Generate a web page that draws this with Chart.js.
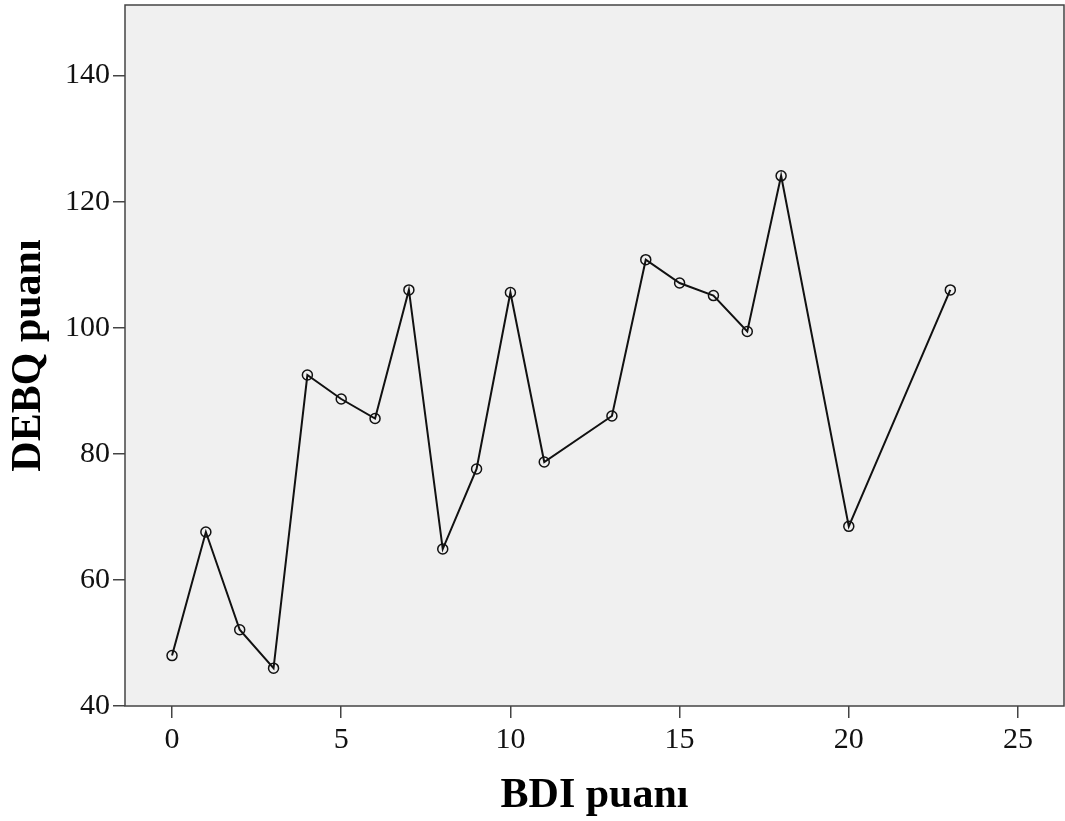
<!DOCTYPE html>
<html>
<head>
<meta charset="utf-8">
<script src="https://cdn.jsdelivr.net/npm/chart.js@4/dist/chart.umd.min.js"></script>
<style>
  html, body { margin: 0; padding: 0; background: #fff; overflow: hidden; }
  #wrap { width: 1065px; height: 821px; }
  canvas { display: block; }
</style>
</head>
<body>
<div id="wrap"><canvas id="c" width="1065" height="821"></canvas></div>
<script>
// BDI score vs DEBQ score
var bdi   = [0, 1, 2, 3, 4, 5, 6, 7, 8, 9, 10, 11, 13, 14, 15, 16, 17, 18, 20, 23];
var debq  = [48.0, 67.6, 52.1, 46.0, 92.5, 88.7, 85.6, 106.0, 64.9, 77.6, 105.6, 78.7, 86.0, 110.8, 107.1, 105.1, 99.4, 124.1, 68.5, 106.0];
var xTitle = 'BDI puanı';
var yTitle = 'DEBQ puanı';

var serif = '"Liberation Serif", "Times New Roman", serif';

var points = bdi.map(function(x, i) { return {x: x, y: debq[i]}; });

// gray plot background + frame
var plotFrame = {
    id: 'plotFrame',
    beforeDraw: function(chart) {
        var a = chart.chartArea, ctx = chart.ctx;
        ctx.save();
        ctx.fillStyle = '#f0f0f0';
        ctx.fillRect(a.left, a.top, a.right - a.left, a.bottom - a.top);
        ctx.restore();
    },
    afterDraw: function(chart) {
        var a = chart.chartArea, ctx = chart.ctx;
        ctx.save();
        ctx.strokeStyle = '#444';
        ctx.lineWidth = 1.5;
        ctx.strokeRect(a.left, a.top, a.right - a.left, a.bottom - a.top);
        ctx.restore();
    }
};

new Chart(document.getElementById('c'), {
    type: 'scatter',
    data: {
        datasets: [{
            data: points,
            showLine: true,
            borderColor: '#111',
            borderWidth: 2,
            pointRadius: 5,
            pointBorderWidth: 1.5,
            pointBorderColor: '#111',
            pointBackgroundColor: 'rgba(0,0,0,0)',
            tension: 0
        }]
    },
    options: {
        responsive: false,
        animation: false,
        layout: { autoPadding: false, padding: { top: 5, right: 1, left: 0, bottom: 0 } },
        plugins: { legend: { display: false }, tooltip: { enabled: false } },
        scales: {
            x: {
                type: 'linear',
                min: -1.39,
                max: 26.36,
                afterFit: function(s) { s.height = 115; s.paddingLeft = 0; s.paddingRight = 0; },
                ticks: { stepSize: 5, includeBounds: false, color: '#111', padding: 4,
                         font: { family: serif, size: 30 } },
                grid: { drawOnChartArea: false, tickLength: 12, color: '#444', lineWidth: 1.5 },
                border: { display: false },
                title: { display: true, text: xTitle, color: '#000', padding: { top: 8, bottom: 0 },
                         font: { family: serif, size: 42, weight: 'bold' } }
            },
            y: {
                type: 'linear',
                min: 40,
                max: 151.2,
                afterFit: function(s) { s.width = 125; s.paddingTop = 0; s.paddingBottom = 0; },
                ticks: { stepSize: 20, includeBounds: false, color: '#111', padding: 3,
                         font: { family: serif, size: 30 } },
                grid: { drawOnChartArea: false, tickLength: 12, color: '#444', lineWidth: 1.5 },
                border: { display: false },
                title: { display: true, text: yTitle, color: '#000', padding: { top: 4, bottom: 10 },
                         font: { family: serif, size: 42, weight: 'bold' } }
            }
        }
    },
    plugins: [plotFrame]
});
</script>
</body>
</html>
